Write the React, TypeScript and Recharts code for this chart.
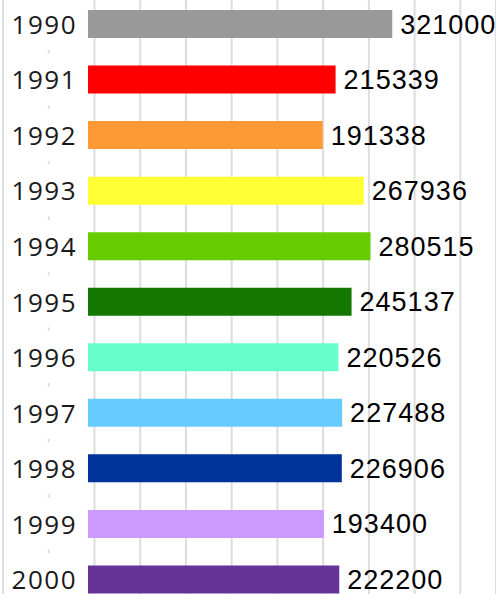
import { BarChart, Bar, XAxis, YAxis, CartesianGrid, Cell, LabelList } from "recharts";

const years = ["1990", "1991", "1992", "1993", "1994", "1995", "1996", "1997", "1998", "1999", "2000"];
const values = [321000, 215339, 191338, 267936, 280515, 245137, 220526, 227488, 226906, 193400, 222200];
const colors = [
  "#999999",
  "#ff0000",
  "#ff9933",
  "#ffff33",
  "#66cc00",
  "#147800",
  "#66ffcc",
  "#66ccff",
  "#003399",
  "#cc99ff",
  "#663399",
];
// vertical grid positions, in value units
const gridTicks = [-405000, -319700, -234400, -149100, -63800, 21500, 106800, 192100, 277400, 362700, 448000];

// the bars start left of zero in the original picture
const BAR_BASE = -246500;

const data = years.map((year, i) => ({ year, value: values[i], range: [BAR_BASE, values[i]] }));

function YearTick(props: any) {
  const { y, payload } = props;
  return (
    <g>
      <rect x={6} y={y - 26} width={81} height={52} fill="#fff" />
      <text
        x={77}
        y={y}
        textAnchor="end"
        dominantBaseline="central"
        fill="#1a1a1a"
        fontFamily="Open Sans, Noto Sans, sans-serif"
        fontSize={26}
        letterSpacing={1.5}
      >
        {payload.value}
      </text>
    </g>
  );
}

export default function App() {
  return (
    <div style={{ position: "absolute", left: 0, top: 0, width: 496, height: 594, overflow: "hidden", background: "#fff" }}>
      <div style={{ marginTop: -4 }}>
        <BarChart
          width={496}
          height={611}
          data={data}
          layout="vertical"
          margin={{ top: 0, right: 0, bottom: 0, left: 3 }}
        >
          <CartesianGrid horizontal={false} stroke="#dddddd" strokeWidth={2} />
          <XAxis type="number" domain={[-405000, 514500]} ticks={gridTicks} interval={0} hide />
          <YAxis
            type="category"
            dataKey="year"
            mirror
            width={1}
            axisLine={false}
            tickLine={false}
            interval={0}
            tick={<YearTick />}
          />
          <Bar dataKey="range" barSize={28} isAnimationActive={false}>
            {data.map((d, i) => (
              <Cell key={d.year} fill={colors[i]} />
            ))}
            <LabelList
              dataKey="value"
              position="right"
              offset={8}
              fill="#000"
              fontFamily="'Liberation Sans', Arial, sans-serif"
              fontWeight="normal"
              fontSize={27}
              letterSpacing={1}
            />
          </Bar>
        </BarChart>
      </div>
    </div>
  );
}
